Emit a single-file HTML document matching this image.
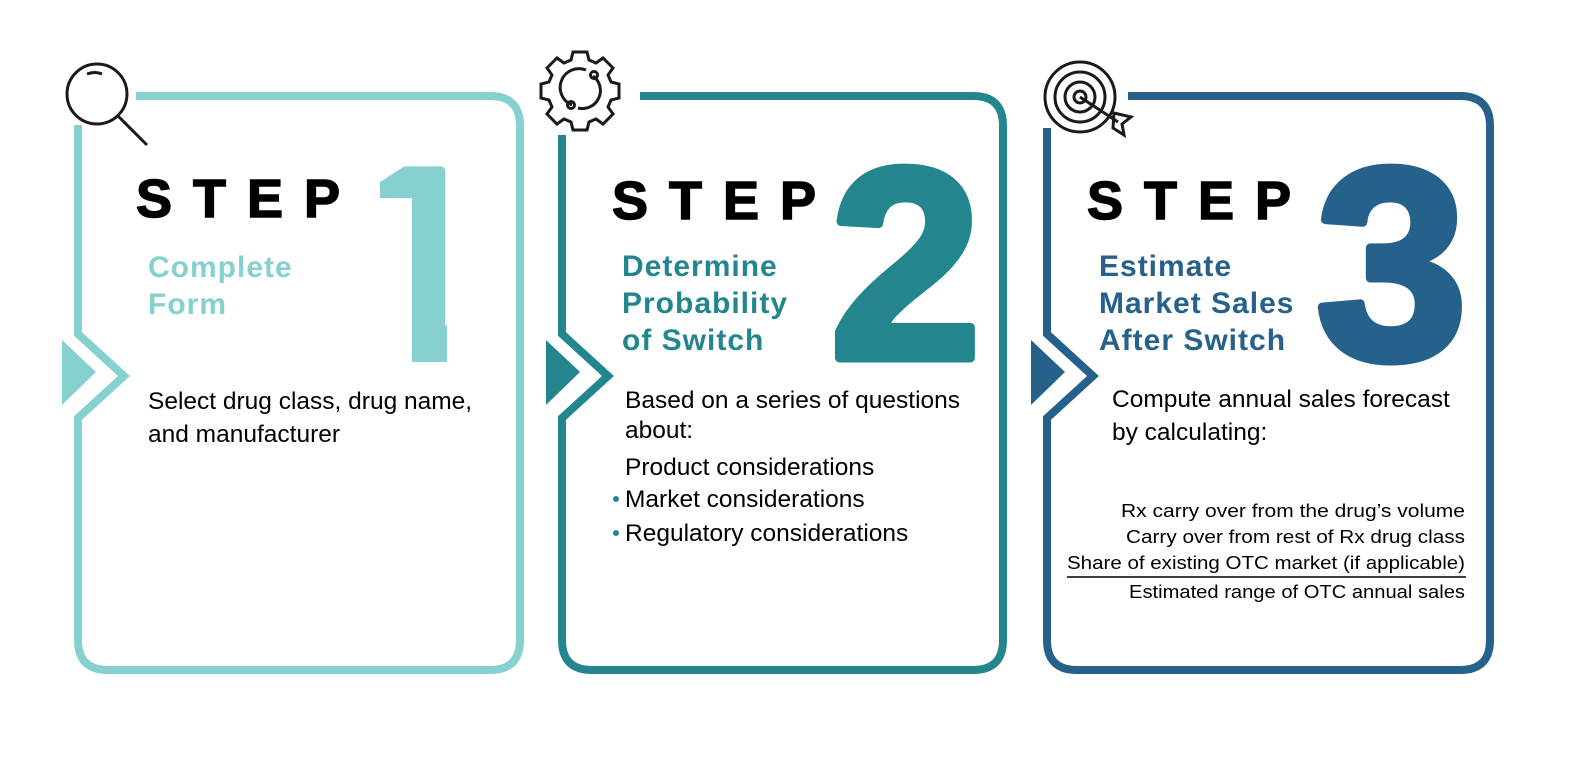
<!DOCTYPE html>
<html><head><meta charset="utf-8"><style>
html,body{margin:0;padding:0;background:#fff;width:1584px;height:776px;overflow:hidden}
svg text{font-family:"Liberation Sans","DejaVu Sans",sans-serif}
.step{font-weight:bold;font-size:54px;letter-spacing:21px;fill:#000;stroke:#000;stroke-width:1.5}
.big{font-weight:bold;font-size:272px;stroke-width:9;stroke-linejoin:round}
.ttl{font-weight:bold;font-size:30px;letter-spacing:1px}
.body{font-size:24.5px;fill:#000}
.small{font-size:18px;fill:#000}
</style></head><body>
<svg width="1584" height="776" viewBox="0 0 1584 776" xmlns="http://www.w3.org/2000/svg">
<defs><clipPath id="c1"><rect x="380" y="150" width="72" height="48"/><rect x="412" y="150" width="35" height="212"/></clipPath></defs>
<g>
<path fill="none" stroke="#86d0d0" stroke-width="8"
 d="M136,96 H490 Q520,96 520,126 V640 Q520,670 490,670 H108 Q78,670 78,640 V418 L124,376 L78,334 V125"/>
<polygon points="62,340 96,372 62,405" fill="#86d0d0"/>
<g fill="none" stroke="#1a1a1a" stroke-width="3">
<circle cx="97" cy="94" r="30"/><line x1="118" y1="116" x2="147" y2="145"/><path d="M87,74 Q95,71 102,74"/>
</g>
<text class="step" x="136" y="217">STEP</text>
<text class="big" x="340" y="358" fill="#86d0d0" stroke="#86d0d0" clip-path="url(#c1)">1</text>
<text class="ttl" x="148" y="277" fill="#86d0d0"><tspan x="148">Complete</tspan><tspan x="148" dy="37">Form</tspan></text>
<text class="body"><tspan x="148" y="409">Select drug class, drug name,</tspan><tspan x="148" y="442">and manufacturer</tspan></text>
</g>
<g>
<path fill="none" stroke="#23868f" stroke-width="8"
 d="M640,96 H973 Q1003,96 1003,126 V640 Q1003,670 973,670 H592 Q562,670 562,640 V418 L608,376 L562,334 V135"/>
<polygon points="546,340 580,372 546,405" fill="#23868f"/>
<g fill="none" stroke="#1a1a1a" stroke-width="3">
<path d="M573,52 h14 l2,8 l7,3 l7,-5 l10,10 l-5,7 l3,7 l8,2 v14 l-8,2 l-3,7 l5,7 l-10,10 l-7,-5 l-7,3 l-2,8 h-14 l-2,-8 l-7,-3 l-7,5 l-10,-10 l5,-7 l-3,-7 l-8,-2 v-14 l8,-2 l3,-7 l-5,-7 l10,-10 l7,5 l7,-3 z"/>
<path d="M586,70 A18,18 0 0 0 572,105"/><path d="M593,76 A18,18 0 0 1 578,108"/>
<circle cx="571" cy="105" r="3.5"/><circle cx="594" cy="75" r="3.5"/>
</g>
<text class="step" x="612" y="219">STEP</text>
<text class="big" x="830" y="358" fill="#23868f" stroke="#23868f">2</text>
<text class="ttl" x="622" y="276" fill="#23868f"><tspan x="622">Determine</tspan><tspan x="622" dy="37">Probability</tspan><tspan x="622" dy="37">of Switch</tspan></text>
<text class="body"><tspan x="625" y="408">Based on a series of questions</tspan><tspan x="625" y="438">about:</tspan><tspan x="625" y="475">Product considerations</tspan><tspan x="625" y="507">Market considerations</tspan><tspan x="625" y="541">Regulatory considerations</tspan></text>
<circle cx="616" cy="499" r="3" fill="#23868f"/>
<circle cx="616" cy="533" r="3" fill="#23868f"/>
</g>
<g>
<path fill="none" stroke="#26618c" stroke-width="8"
 d="M1128,96 H1460 Q1490,96 1490,126 V640 Q1490,670 1460,670 H1077 Q1047,670 1047,640 V418 L1093,376 L1047,334 V128"/>
<polygon points="1031,340 1065,372 1031,405" fill="#26618c"/>
<g fill="none" stroke="#1a1a1a" stroke-width="3">
<circle cx="1080" cy="97" r="35"/><circle cx="1080" cy="97" r="25"/><circle cx="1080" cy="97" r="15"/><circle cx="1080" cy="97" r="6"/>
<line x1="1080" y1="97" x2="1118" y2="122"/><path d="M1114,113 L1131,117 L1122,124 L1124,135 L1113,128 Z"/>
</g>
<text class="step" x="1087" y="219">STEP</text>
<text class="big" x="1316" y="358" fill="#26618c" stroke="#26618c">3</text>
<text class="ttl" x="1099" y="276" fill="#26618c"><tspan x="1099">Estimate</tspan><tspan x="1099" dy="37">Market Sales</tspan><tspan x="1099" dy="37">After Switch</tspan></text>
<text class="body"><tspan x="1112" y="407">Compute annual sales forecast</tspan><tspan x="1112" y="440">by calculating:</tspan></text>
<text class="small">
<tspan x="1121" y="517" textLength="344" lengthAdjust="spacingAndGlyphs">Rx carry over from the drug’s volume</tspan>
<tspan x="1126" y="543" textLength="339" lengthAdjust="spacingAndGlyphs">Carry over from rest of Rx drug class</tspan>
<tspan x="1067" y="569" textLength="398" lengthAdjust="spacingAndGlyphs">Share of existing OTC market (if applicable)</tspan>
<tspan x="1129" y="598" textLength="336" lengthAdjust="spacingAndGlyphs">Estimated range of OTC annual sales</tspan></text>
<line x1="1067" y1="577" x2="1466" y2="577" stroke="#000" stroke-width="1.5"/>
</g>
</svg>
</body></html>
